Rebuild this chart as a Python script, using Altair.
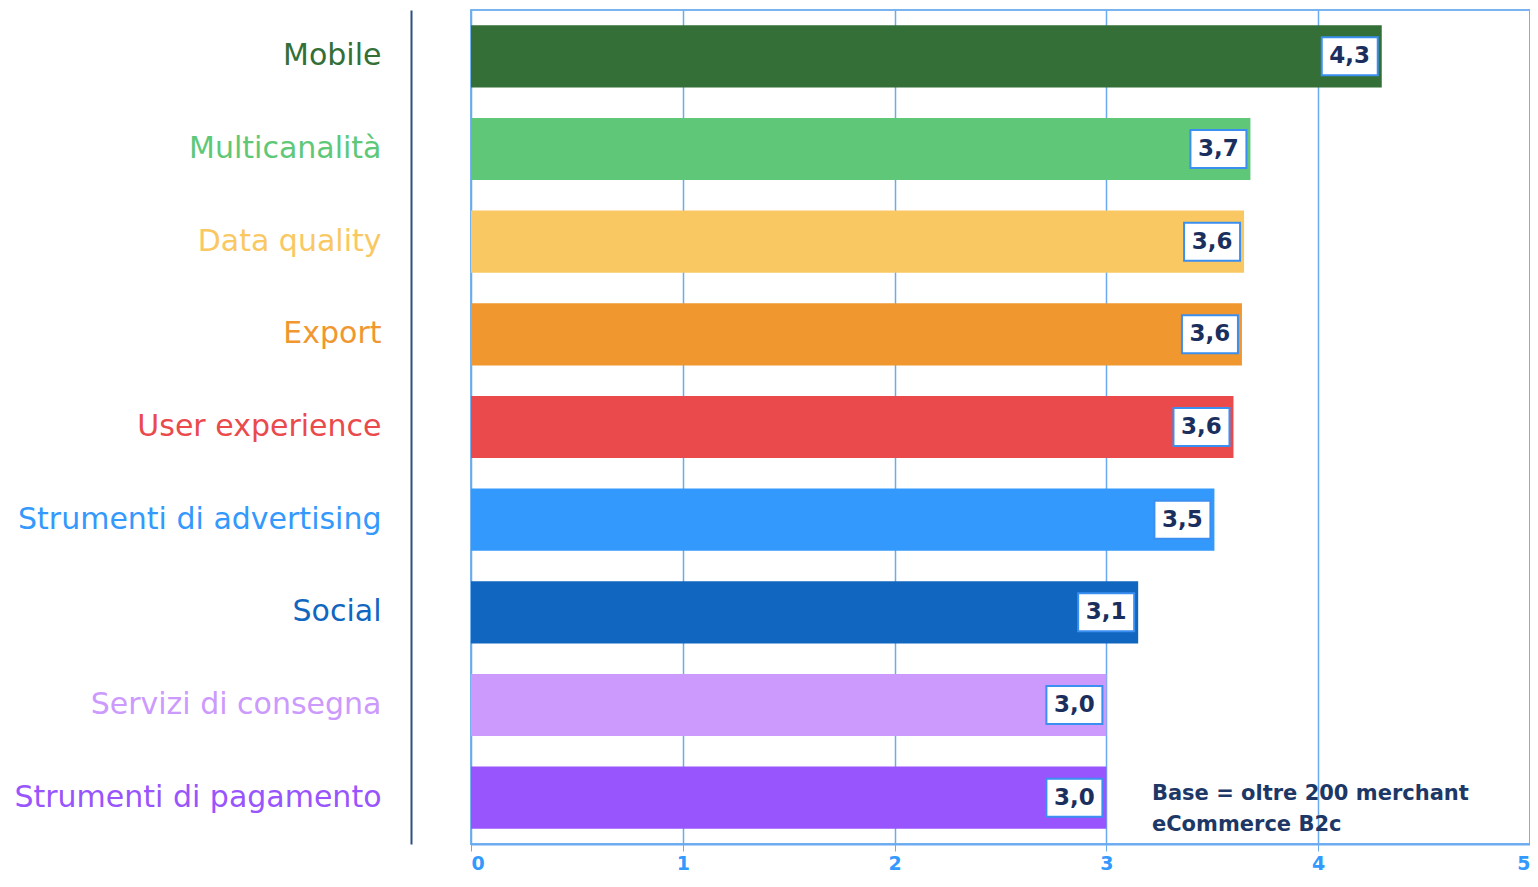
import altair as alt
import pandas as pd

categories = ["Mobile", "Multicanalità", "Data quality", "Export", "User experience",
              "Strumenti di advertising", "Social", "Servizi di consegna", "Strumenti di pagamento"]
values = [4.30, 3.68, 3.65, 3.64, 3.60, 3.51, 3.15, 3.00, 3.00]
value_labels = ["4,3", "3,7", "3,6", "3,6", "3,6", "3,5", "3,1", "3,0", "3,0"]
colors = ["#336f36", "#5ec878", "#f9c862", "#f0972f", "#ea4a4c",
          "#3399fd", "#1166bf", "#cc99fd", "#9955fd"]
x_ticks = [0, 1, 2, 3, 4, 5]
note_lines = ["Base = oltre 200 merchant", "eCommerce B2c"]
note_x = 3.215

df = pd.DataFrame({"cat": categories, "value": values, "lab": value_labels})
note_df = pd.DataFrame({"x": [note_x], "cat": [categories[-1]]})

label_color_expr = "'#333333'"
for c, col in reversed(list(zip(categories, colors))):
    label_color_expr = f"datum.value == '{c}' ? '{col}' : ({label_color_expr})"

y_scale = alt.Scale(domain=categories, paddingInner=0.33, paddingOuter=0.165)
y_enc = alt.Y("cat:N", sort=categories, scale=y_scale, title=None,
              axis=alt.Axis(offset=60, labelPadding=30, ticks=False, domainColor="#2d4f80",
                            domainWidth=2, labelFont="DejaVu Sans", labelFontSize=30,
                            labelColor=alt.expr(label_color_expr), labelLimit=600))
x_scale = alt.Scale(domain=[0, 5], nice=False)
x_axis = alt.Axis(values=x_ticks, format="d", grid=True, gridColor="#6aaaf0", gridWidth=1.5,
                  domainColor="#6aaaf0", domainWidth=2, tickColor="#6aaaf0", tickSize=7,
                  labelColor="#3399fd", labelFont="DejaVu Sans", labelFontWeight="bold",
                  labelFontSize=19, labelFlush=True, labelPadding=3)

base = alt.Chart(df)
bars = base.mark_bar().encode(
    y=y_enc,
    x=alt.X("value:Q", scale=x_scale, axis=x_axis, title=None),
    color=alt.Color("cat:N", scale=alt.Scale(domain=categories, range=colors), legend=None),
)
boxes = base.mark_bar(size=38, fill="white", stroke="#3b8ff0", strokeWidth=2,
                      xOffset=-60, x2Offset=-4).encode(
    y=alt.Y("cat:N", sort=categories),
    x=alt.X("value:Q"),
    x2="value:Q",
)
texts = base.mark_text(dx=-32, font="DejaVu Sans", fontWeight="bold", fontSize=23,
                       color="#1b2f5e").encode(
    y=alt.Y("cat:N", sort=categories),
    x=alt.X("value:Q"),
    text="lab:N",
)
note = alt.Chart(note_df).mark_text(align="left", baseline="middle", dy=-4, lineHeight=31,
                                    font="DejaVu Sans", fontWeight="bold", fontSize=21,
                                    color="#1d3866", text=note_lines).encode(
    y=alt.Y("cat:N", sort=categories),
    x=alt.X("x:Q"),
)

chart = alt.layer(bars, boxes, texts, note).properties(
    width=1059, height=834,
    autosize=alt.AutoSizeParams(type="none"),
    padding={"left": 463, "top": 2, "right": 0, "bottom": 35},
).configure_view(stroke="#7ab4f0", strokeWidth=2)

chart.save("out.html", embed_options={"renderer": "svg", "actions": False})
